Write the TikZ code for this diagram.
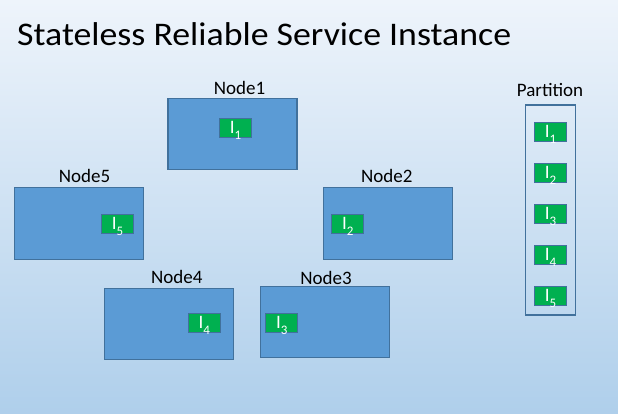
\documentclass[tikz,border=0pt]{standalone}
\usepackage{fontspec}
\setmainfont{Carlito}
\newfontfamily\titlefont[FakeStretch=1.085]{Carlito}
\definecolor{bgtop}{HTML}{EEF4FB}
\definecolor{bgbot}{HTML}{AFCFEB}
\definecolor{nodeblue}{HTML}{5B9BD5}
\definecolor{edgeblue}{HTML}{41719C}
\definecolor{instgreen}{HTML}{00B050}
\tikzset{
  hostbox/.style={draw=edgeblue, fill=nodeblue, line width=1.2pt, minimum width=129pt, minimum height=71pt, inner sep=0pt},
  partbox/.style={draw=edgeblue, line width=1.2pt, minimum width=49.5pt, minimum height=210pt, inner sep=0pt},
  instbox/.style={draw=edgeblue, fill=instgreen, line width=1pt, minimum width=32pt, minimum height=19pt, inner sep=0pt},
  instlbl/.style={text=white, inner sep=0pt, anchor=base, font=\fontsize{19}{19}\selectfont},
  hostlbl/.style={anchor=base, inner sep=0pt, font=\fontsize{19}{19}\selectfont},
}
\newcommand{\inst}[1]{I\raisebox{-6pt}{\fontsize{13}{13}\selectfont #1}}
\begin{document}
\begin{tikzpicture}[x=1pt,y=-1pt]
\useasboundingbox (0,0) rectangle (618,413);
\shade[top color=bgtop, bottom color=bgbot] (0,0) rectangle (618,413);
\node[anchor=base west, inner sep=0pt, font=\titlefont\fontsize{33}{38}\selectfont] (title) at (17,45) {Stateless Reliable Service Instance};

% hosts
\node[hostbox] (n1) at (232.5,134) {};
\node[hostbox, minimum height=71.5pt] (n5) at (78.8,223.5) {};
\node[hostbox, minimum height=71.5pt] (n2) at (387.8,223.5) {};
\node[hostbox] (n4) at (168.7,323.8) {};
\node[hostbox] (n3) at (324.7,321.8) {};
\node[hostlbl] (l1) at (239.5,94) {Node1};
\node[hostlbl] (l5) at (84.5,182) {Node5};
\node[hostlbl] (l2) at (386.7,182) {Node2};
\node[hostlbl] (l4) at (176.7,283.5) {Node4};
\node[hostlbl] (l3) at (326,284) {Node3};

% instances in hosts
\node[instbox] (i1) at (235.5,127.8) {};
\node[instbox] (i5) at (117.5,223.8) {};
\node[instbox] (i2) at (347.8,223.8) {};
\node[instbox] (i4) at (204.3,323.3) {};
\node[instbox] (i3) at (281.7,323.3) {};
\node[instlbl] at ([yshift=-5.5pt]i1.center) {\inst{1}};
\node[instlbl] at ([yshift=-5.5pt]i5.center) {\inst{5}};
\node[instlbl] at ([yshift=-5.5pt]i2.center) {\inst{2}};
\node[instlbl] at ([yshift=-5.5pt]i4.center) {\inst{4}};
\node[instlbl] at ([yshift=-5.5pt]i3.center) {\inst{3}};

% partition
\node[partbox] (part) at (550.5,210) {};
\node[hostlbl] (lp) at (550,96.5) {Partition};
\node[instbox] (p1) at (550.5,132) {};
\node[instbox] (p2) at (550.5,173) {};
\node[instbox] (p3) at (550.5,214.2) {};
\node[instbox] (p4) at (550.5,255.4) {};
\node[instbox] (p5) at (550.5,295.8) {};
\node[instlbl] at ([yshift=-5.5pt]p1.center) {\inst{1}};
\node[instlbl] at ([yshift=-5.5pt]p2.center) {\inst{2}};
\node[instlbl] at ([yshift=-5.5pt]p3.center) {\inst{3}};
\node[instlbl] at ([yshift=-5.5pt]p4.center) {\inst{4}};
\node[instlbl] at ([yshift=-5.5pt]p5.center) {\inst{5}};
\end{tikzpicture}
\end{document}
